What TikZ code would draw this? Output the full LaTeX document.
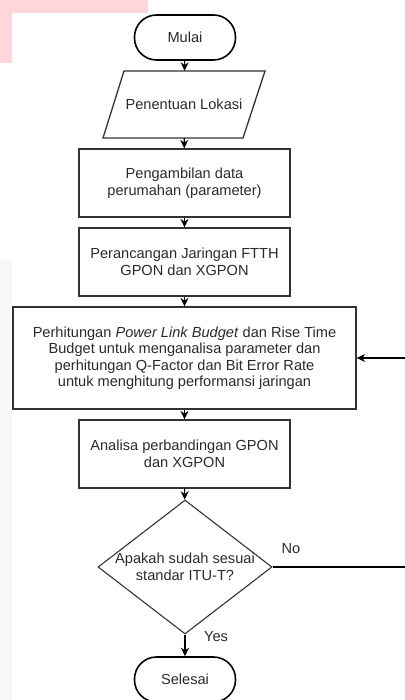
\documentclass[tikz,border=0pt]{standalone}
\usepackage{fontspec}
\setmainfont{Liberation Sans}
\usetikzlibrary{shapes.geometric,arrows.meta}
\definecolor{pinkbg}{HTML}{FFD6DA}
\definecolor{graybg}{HTML}{F8F8F8}
\definecolor{ink}{HTML}{333333}
\definecolor{txt}{HTML}{2A2A2A}
\begin{document}
\begin{tikzpicture}[x=1pt,y=-1pt,
  every node/.style={font=\fontsize{14.6}{16.5}\selectfont, text=txt},
  terminal/.style={draw=black, line width=1.6pt, rectangle, rounded corners=22pt,
    minimum width=101pt, minimum height=45pt, inner sep=0pt},
  procbox/.style={draw=ink, line width=1.3pt, rectangle, minimum width=211pt,
    minimum height=68pt, align=center, inner sep=0pt},
  arr/.style={draw=black, line width=1.1pt, -{Stealth[length=8.5pt,width=8pt]}},
  plainline/.style={draw=ink, line width=1.1pt}]
\useasboundingbox (0,0) rectangle (404,700);
% background artefacts
\fill[pinkbg] (0,0) rectangle (148,13);
\fill[pinkbg] (0,13) rectangle (12,63);
\fill[graybg] (0,259) rectangle (12,700);
% nodes
\node[terminal] (mulai) at (185,37.5) {Mulai};
\node[minimum width=162pt, minimum height=67pt, inner sep=0pt] (lokasi) at (184,104.5) {Penentuan Lokasi};
\draw[draw=ink, line width=1.3pt] (124,71) -- (265,71) -- (243,138) -- (103,138) -- cycle;
\node[procbox] (data) at (184.5,183) {Pengambilan data\\perumahan (parameter)};
\node[procbox] (ftth) at (184.5,262) {Perancangan Jaringan FTTH\\GPON dan XGPON};
\node[procbox, minimum width=343pt, minimum height=102pt] (hitung) at (184.5,358)
  {Perhitungan \textit{Power Link Budget} dan Rise Time\\Budget untuk menganalisa parameter dan\\perhitungan Q-Factor dan Bit Error Rate\\untuk menghitung performansi jaringan};
\node[procbox] (analisa) at (184.5,454) {Analisa perbandingan GPON\\dan XGPON};
\node[diamond, draw=ink, line width=1.1pt, minimum width=174pt, minimum height=134pt, inner sep=0pt] (dec) at (185,567) {};
\node[align=center, inner sep=0pt] (dectext) at (185,567) {Apakah sudah sesuai\\standar ITU-T?};
\node[terminal] (selesai) at (185,679.5) {Selesai};
% connectors
\draw[arr] (mulai) -- (lokasi);
\draw[arr] (lokasi) -- (data);
\draw[arr] (data) -- (ftth);
\draw[arr] (ftth) -- (hitung);
\draw[arr] (hitung) -- (analisa);
\draw[arr] (analisa) -- (dec);
\draw[arr] (dec) -- (selesai);
\node (yes) at (216,637) {Yes};
\coordinate (nocorner) at (407,567);
\draw[arr] (dec.east) -- (nocorner) |- (hitung.east);
\node (no) at (291,549) {No};
\end{tikzpicture}
\end{document}
